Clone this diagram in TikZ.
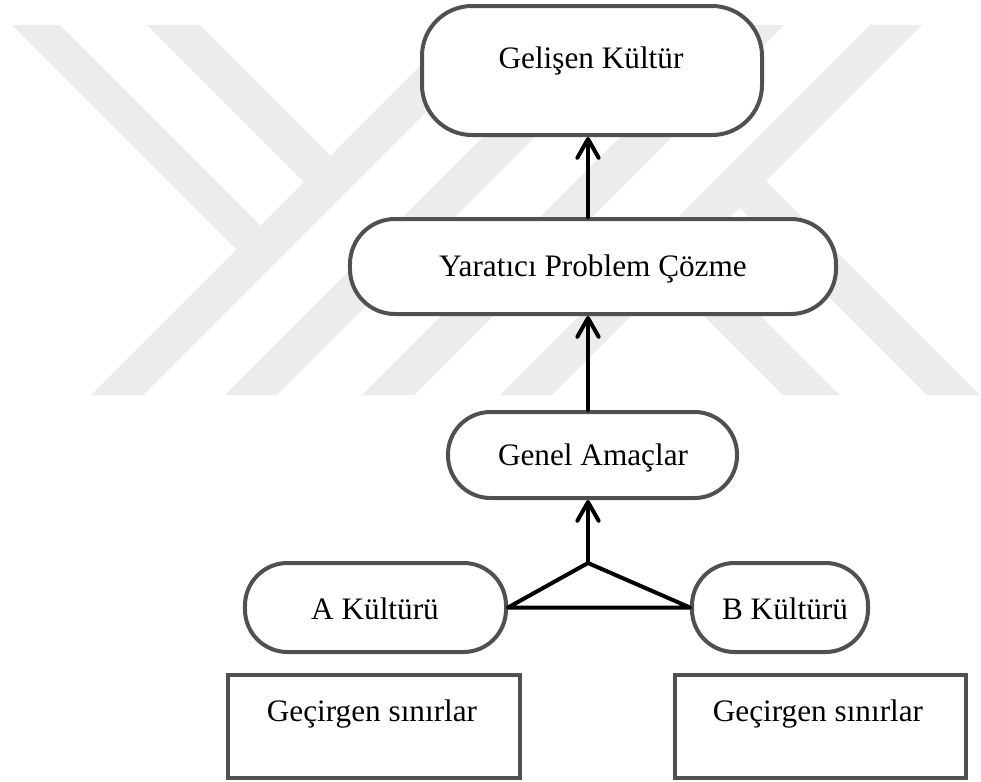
\documentclass[tikz,border=0pt]{standalone}
\usepackage{fontspec}
\setmainfont{Liberation Serif}
\usetikzlibrary{arrows.meta}
\definecolor{wmgray}{RGB}{236,236,236}
\definecolor{edgegray}{RGB}{80,80,80}
\begin{document}
\begin{tikzpicture}[x=0.4pt,y=-0.4pt,
  term/.style={draw=edgegray, line width=1.6pt, fill=white, rounded corners=#1, inner sep=0pt},
  term/.default=17pt,
  plainbox/.style={draw=edgegray, line width=1.6pt, fill=white, inner sep=0pt},
  lbl/.style={anchor=base, font=\fontsize{12.5}{15}\selectfont, inner sep=0pt},
  link/.style={line width=1.6pt, line join=round, line cap=round},
  uparrow/.style={link, -{Straight Barb[length=7.5pt,width=8.5pt,line cap=round,line join=round]}},
  stripe/.style={fill=wmgray, draw=none}]

\useasboundingbox (0,0) rectangle (981,781);

% background emblem: slanted stripes
\fill[stripe] (91,395) -- (143,395) -- (513,25) -- (461,25) -- cycle;
\fill[stripe] (225,395) -- (277,395) -- (647,25) -- (595,25) -- cycle;
\fill[stripe] (362,395) -- (414,395) -- (784,25) -- (732,25) -- cycle;
\fill[stripe] (500,395) -- (552,395) -- (922,25) -- (870,25) -- cycle;
\fill[stripe] (12,25) -- (60,25) -- (260.5,225.5) -- (236.5,249.5) -- cycle;
\fill[stripe] (147,25) -- (200,25) -- (330.5,155.5) -- (304,182) -- cycle;
\fill[stripe] (696,251) -- (667.5,279.5) -- (783,395) -- (840,395) -- cycle;
\fill[stripe] (766,181) -- (739.5,207.5) -- (927,395) -- (980,395) -- cycle;

% boxes
\node[term=20pt, minimum width=136pt, minimum height=51.6pt] (gk) at (592,70.5) {};
\node[term=18pt, minimum width=194.4pt, minimum height=38pt] (yp) at (593,266.5) {};
\node[term, minimum width=115.6pt, minimum height=34.4pt] (ga) at (592.5,455) {};
\node[term, minimum width=104.4pt, minimum height=35.6pt] (ak) at (375.5,607.5) {};
\node[term, minimum width=70.4pt, minimum height=35.6pt] (bk) at (780,607.5) {};
\node[plainbox, minimum width=116.8pt, minimum height=41.2pt] (gl) at (374,726.5) {};
\node[plainbox, minimum width=116.4pt, minimum height=41.2pt] (gr) at (820.5,726.5) {};

% labels
\node[lbl] (gk-t) at (591,68) {Gelişen Kültür};
\node[lbl] (yp-t) at (593,276) {Yaratıcı Problem Çözme};
\node[lbl] (ga-t) at (593,465) {Genel Amaçlar};
\node[lbl] (ak-t) at (375,619) {A Kültürü};
\node[lbl] (bk-t) at (785,619) {B Kültürü};
\node[lbl] (gl-t) at (372,721) {Geçirgen sınırlar};
\node[lbl] (gr-t) at (818,721) {Geçirgen sınırlar};

% connectors
\coordinate (jn) at (588,563);
\draw[link] (ak.east) -- (jn) -- (bk.west) -- cycle;
\draw[uparrow] (jn) -- (ga.south -| jn);
\draw[uparrow] (ga.north -| jn) -- (yp.south -| jn);
\draw[uparrow] (yp.north -| jn) -- (gk.south -| jn);
\end{tikzpicture}
\end{document}
